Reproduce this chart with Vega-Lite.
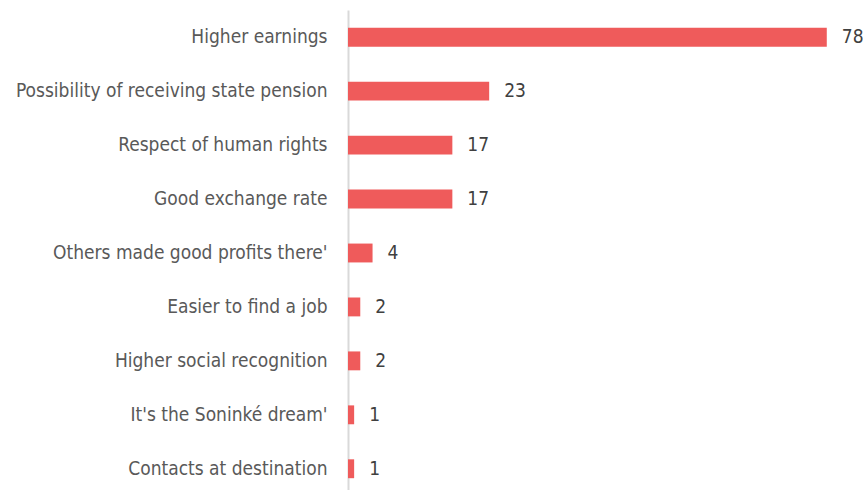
{
  "$schema": "https://vega.github.io/schema/vega-lite/v6.json",
  "width": 515,
  "height": 486,
  "autosize": {"type": "none"},
  "padding": {"left": 348, "top": 10, "right": 0, "bottom": 0},
  "background": "white",
  "config": {"view": {"stroke": null}, "font": "'Liberation Sans Narrow', 'DejaVu Sans Condensed', Roboto"},
  "data": {"values": [
    {"reason": "Higher earnings", "value": 78},
    {"reason": "Possibility of receiving state pension", "value": 23},
    {"reason": "Respect of human rights", "value": 17},
    {"reason": "Good exchange rate", "value": 17},
    {"reason": "Others made good profits there'", "value": 4},
    {"reason": "Easier to find a job", "value": 2},
    {"reason": "Higher social recognition", "value": 2},
    {"reason": "It's the Soninké dream'", "value": 1},
    {"reason": "Contacts at destination", "value": 1}
  ]},
  "encoding": {
    "y": {"field": "reason", "type": "nominal", "sort": null,
      "scale": {"paddingInner": 0.65, "paddingOuter": 0.33},
      "axis": {"title": null, "ticks": false, "labelPadding": 21, "labelFontSize": 19, "labelColor": "#595959", "labelFont": "'Liberation Sans Narrow', 'DejaVu Sans Condensed', Roboto", "domainColor": "#D9D9D9", "domainWidth": 2, "labelLimit": 400}},
    "x": {"field": "value", "type": "quantitative", "scale": {"domain": [0, 83.9], "nice": false, "zero": true}, "axis": null}
  },
  "layer": [
    {"mark": {"type": "bar", "color": "#EF5B5B"}},
    {"mark": {"type": "text", "align": "left", "dx": 15, "fontSize": 19, "color": "#404040", "font": "'Liberation Sans Narrow', 'DejaVu Sans Condensed', Roboto"},
     "encoding": {"text": {"field": "value", "type": "quantitative"}}}
  ]
}
